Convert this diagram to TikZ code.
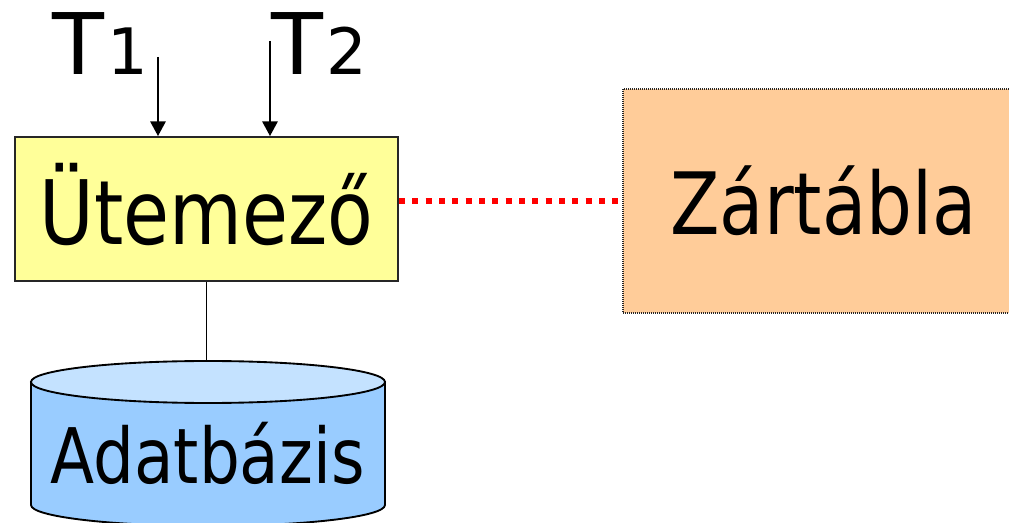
\documentclass[tikz,border=0pt]{standalone}
\usepackage{fontspec}
\setmainfont{DejaVu Sans}[FakeStretch=0.84]
\usetikzlibrary{arrows.meta}
\definecolor{schedfill}{HTML}{FFFF99}
\definecolor{lockfill}{HTML}{FFCC99}
\definecolor{dbbody}{HTML}{99CCFF}
\definecolor{dbtopc}{HTML}{C4E2FF}
\definecolor{dotred}{HTML}{FF0000}
\begin{document}
\begin{tikzpicture}[x=0.75pt,y=-0.75pt,
  txt/.style={inner sep=0pt,outer sep=0pt},
  feed/.style={line width=1.4pt,draw=black,-{Triangle[width=11.5pt,length=11pt]}},
  link/.style={line width=1.4pt,draw=black},
  lockline/.style={draw=dotred,line width=4.3pt,dash pattern=on 4.5pt off 5.5pt},
  boxsolid/.style={draw=black!85,line width=1.4pt,inner sep=0pt,anchor=base},
  boxdotted/.style={draw=black!85,line width=0.9pt,dash pattern=on 0.75pt off 0.75pt,inner sep=0pt,anchor=base},
  cyl/.style={draw=black,line width=1.4pt},
]
\useasboundingbox (0,0) rectangle (1009,523);
\clip (0,0) rectangle (1009,523);
% database cylinder
\path[cyl,fill=dbbody] (31,382) -- (31,505) arc[start angle=180,end angle=0,x radius=177,y radius=21] -- (385,382) -- cycle;
\draw[cyl,fill=dbtopc] (208,382) ellipse[x radius=177,y radius=21];
\node[txt,anchor=base,font=\fontsize{57.5}{62}\selectfont] (db) at (207.5,483) {Adatbázis};
\coordinate (dbtop) at (207,361);
% scheduler
\node[boxsolid,fill=schedfill,text height=81pt,text depth=27pt,minimum width=287.25pt,font=\fontsize{66.75}{70}\selectfont] (sched) at (206.5,245) {Ütemező};
% lock table
\node[boxdotted,fill=lockfill,text height=109.5pt,text depth=58.5pt,minimum width=300.75pt,font=\fontsize{64.5}{68}\selectfont] (lock) at (823.5,235) {Zártábla};
% transactions
\node[txt,anchor=base west] (t1) at (52,75) {\fontsize{63.75}{68}\selectfont\addfontfeatures{FakeStretch=1.0}T\kern3pt\fontsize{48}{52}\selectfont 1};
\node[txt,anchor=base west] (t2) at (271,75) {\fontsize{63.75}{68}\selectfont\addfontfeatures{FakeStretch=1.0}T\kern3pt\fontsize{48}{52}\selectfont 2};
\coordinate (t1s) at (158,57);
\coordinate (t2s) at (270,41);
\draw[feed] (t1s) -- (t1s |- sched.north);
\draw[feed] (t2s) -- (t2s |- sched.north);
\draw[link] (sched.south) -- (sched.south |- dbtop);
\draw[lockline] (sched.east |- lock.west) -- (lock.west);
\end{tikzpicture}
\end{document}
